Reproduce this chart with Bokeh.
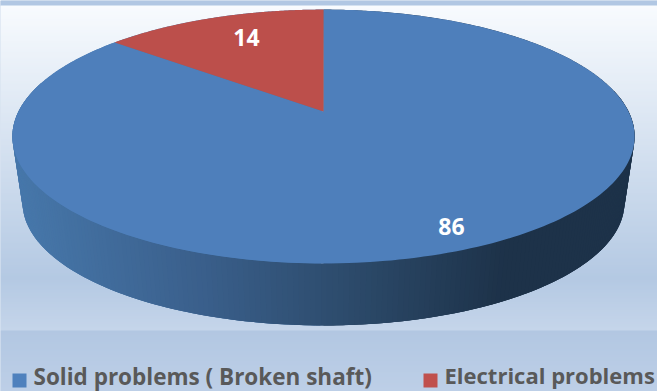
import numpy as np
from bokeh.embed import file_html
from bokeh.models import Range1d
from bokeh.plotting import figure
from bokeh.resources import INLINE
from bokeh.core.properties import value

categories = ["Solid problems ( Broken shaft)", "Electrical problems"]
values = [86, 14]
face_colors = ["#4e7fbb", "#bc4f4b"]
swatch_colors = ["#4f81bd", "#c0504d"]
label_positions = [(451, 226), (246, 37)]
legend_swatches = [(12, 26), (423, 437)]
legend_text_x = [33, 444]
legend_text_y = [376, 374]
legend_font_sizes = ["22.5px", "22px"]

W, H = 657, 391
p = figure(width=W, height=H, output_backend="svg", toolbar_location=None,
           x_range=Range1d(0, W), y_range=Range1d(H, 0),
           min_border=0, outline_line_color=None)
p.axis.visible = False
p.grid.visible = False
p.background_fill_color = "#b3c8e2"
p.border_fill_color = "#b3c8e2"


def hex_rgb(c):
    return np.array([int(c[i:i + 2], 16) for i in (1, 3, 5)], dtype=float)


def mix(a, b, t):
    return "#%02x%02x%02x" % tuple(int(round(v)) for v in hex_rgb(a) + (hex_rgb(b) - hex_rgb(a)) * t)


def band(y0, y1, c0, c1):
    ys = np.arange(y0, y1)
    p.quad(left=0, right=W, top=ys, bottom=ys + 1.5,
           color=[mix(c0, c1, (y - y0) / max(1, y1 - y0 - 1)) for y in ys],
           line_color=None)


# Background bands: chart frame, plot area, legend strip
band(0, 5, "#b1c7e3", "#b1c7e3")
band(5, 278, "#f8fbfe", "#b4c9e3")
band(278, 330, "#b4c9e3", "#c5d5ea")
band(330, 391, "#b2c7e2", "#bdcfe7")


def project(theta, cx, cy, a, b, k):
    """Perspective view of a point on the unit circle; theta runs clockwise from 12 o'clock."""
    X, Y = np.sin(theta), np.cos(theta)
    d = 1 + k * Y
    return cx + a * X / d, cy - b * Y / d


TOP = dict(cx=323, cy=111, a=305, b=122, k=0.197)
BASE = dict(cx=323, cy=178, a=295, b=118, k=0.197)

# Wall shading stops, left to right across the disc
SHADE_X = [15, 200, 350, 500]
SHADE_C = ["#4778ab", "#3a5f8b", "#2c4a6a", "#1d3249"]


def wall_color(x):
    if x >= SHADE_X[-1]:
        return SHADE_C[-1]
    i = max(0, np.searchsorted(SHADE_X, x) - 1)
    t = np.clip((x - SHADE_X[i]) / (SHADE_X[i + 1] - SHADE_X[i]), 0, 1)
    return mix(SHADE_C[i], SHADE_C[i + 1], t)


def hull(points):
    pts = sorted(set(points))

    def half(seq):
        out = []
        for q in seq:
            while len(out) > 1 and (out[-1][0] - out[-2][0]) * (q[1] - out[-2][1]) \
                    - (out[-1][1] - out[-2][1]) * (q[0] - out[-2][0]) <= 0:
                out.pop()
            out.append(q)
        return out[:-1]

    return half(pts) + half(pts[::-1])


# Silhouette of the disc: straight flanks joining the top face to the base
ring = np.linspace(0, 2 * np.pi, 720, endpoint=False)
tx, ty = project(ring, **TOP)
bx, by = project(ring, **BASE)
outline = hull(list(zip(tx.tolist(), ty.tolist())) + list(zip(bx.tolist(), by.tolist())))
left_side = [q for q in outline if q[0] <= TOP["cx"]]
right_side = [q for q in outline if q[0] >= TOP["cx"]]
p.patch([q[0] for q in left_side], [q[1] for q in left_side], color=SHADE_C[0], line_color=None)
p.patch([q[0] for q in right_side], [q[1] for q in right_side], color=SHADE_C[-1], line_color=None)

# Side wall: overlapping strips, each painted over the one before to hide seams
edges = np.linspace(np.radians(285), np.radians(80), 240)
for i in range(len(edges) - 1):
    t = np.array([edges[i], edges[min(i + 2, len(edges) - 1)]])
    xt, yt = project(t, **TOP)
    xb, yb = project(t, **BASE)
    mid = (xt[0] + xb[0]) / 2
    p.patch(list(xt) + list(xb[::-1]), list(yt) + list(yb[::-1]),
            color=wall_color(mid), line_color=None)

# Top face: one wedge per value, running clockwise from 12 o'clock
total = sum(values)
start = 0.0
for v, c in zip(values, face_colors):
    sweep = 2 * np.pi * v / total
    t = np.linspace(start, start + sweep, 240)
    x, y = project(t, **TOP)
    p.patch([TOP["cx"]] + list(x), [TOP["cy"]] + list(y), color=c, line_color=None)
    start += sweep

# Value labels
p.text(x=[q[0] for q in label_positions], y=[q[1] for q in label_positions],
       text=[str(v) for v in values], text_color="white", text_font=value("Open Sans"),
       text_font_style="bold", text_font_size="23px", text_align="center", text_baseline="middle")

# Legend
for (x0, x1), tx0, ty0, c, name, size in zip(legend_swatches, legend_text_x, legend_text_y,
                                             swatch_colors, categories, legend_font_sizes):
    p.quad(left=x0, right=x1, top=373, bottom=387, color=c, line_color=None)
    p.text(x=[tx0], y=[ty0], text=[name], text_color="#595959", text_font=value("Open Sans"),
           text_font_style="bold", text_font_size=size, text_align="left", text_baseline="middle")

open("out.html", "w").write(file_html(p, INLINE))
